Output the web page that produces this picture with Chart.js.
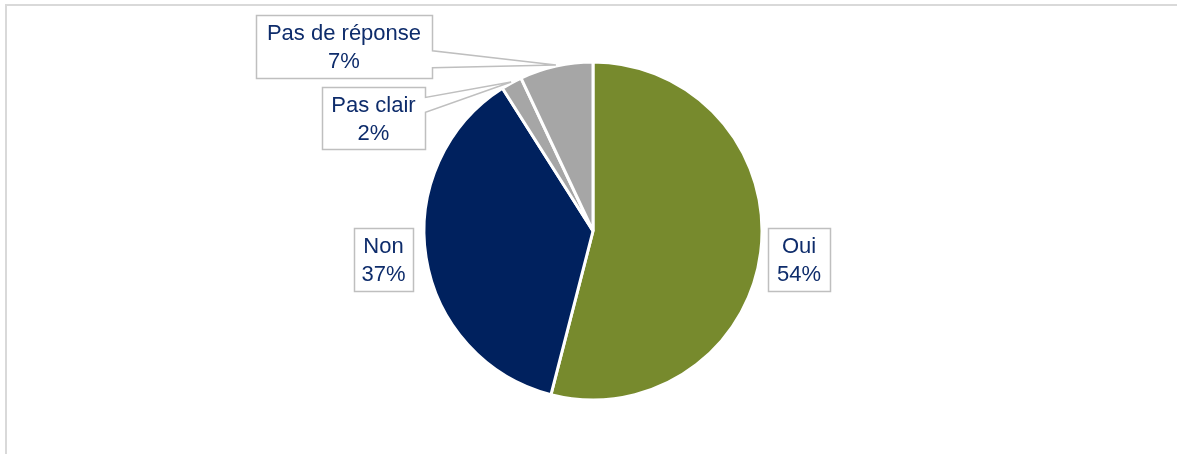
<!DOCTYPE html>
<html lang="fr">
  <head>
    <meta charset="UTF-8" />
    <title>Réponses</title>
    <script src="https://cdn.jsdelivr.net/npm/chart.js"></script>
    <style>
      html, body { margin: 0; padding: 0; background: #fff; }
      #wrap { position: relative; width: 1177px; height: 454px; }
    </style>
  </head>
  <body>
    <div id="wrap"><canvas id="answersChart"></canvas></div>

    <script>
      // Répartition des réponses
      const categories = ["Oui", "Non", "Pas clair", "Pas de réponse"];
      const shares = [54, 37, 2, 7];
      const sliceColors = ["#778a2d", "#00215e", "#a6a6a6", "#a6a6a6"];

      // Étiquettes : centre de la boîte par rapport au centre du camembert,
      // et base de la flèche (fractions de la hauteur) pour les bulles
      const labelBoxes = [
        { dx: 206, dy: 28.5, w: 62, h: 63 },
        { dx: -209.5, dy: 28.5, w: 59, h: 63 },
        { dx: -219.5, dy: -113, w: 103, h: 62, wedge: [0.16, 0.4] },
        { dx: -249, dy: -184.5, w: 176, h: 63, wedge: [0.56, 0.83] },
      ];

      const textColor = "#0e2c6b";
      const boxBorder = "#bfbfbf";

      // fin cadre gris en haut et à gauche
      const framePlugin = {
        id: "frame",
        beforeDraw(chart) {
          const ctx = chart.ctx;
          ctx.save();
          ctx.strokeStyle = "#d9d9d9";
          ctx.lineWidth = 2;
          ctx.beginPath();
          ctx.moveTo(6, chart.height);
          ctx.lineTo(6, 5);
          ctx.lineTo(chart.width, 5);
          ctx.stroke();
          ctx.restore();
        },
      };

      // boîtes d'étiquettes (avec bulle pointant vers la part si besoin)
      const calloutPlugin = {
        id: "callouts",
        afterDatasetsDraw(chart) {
          const ctx = chart.ctx;
          const arcs = chart.getDatasetMeta(0).data;
          ctx.save();
          ctx.font = "22px 'Liberation Sans', Arial, sans-serif";
          ctx.textAlign = "center";
          ctx.textBaseline = "alphabetic";
          arcs.forEach((arc, i) => {
            const box = labelBoxes[i];
            const cx = arc.x + box.dx;
            const cy = arc.y + box.dy;
            const l = Math.round(cx - box.w / 2) + 0.5;
            const r = Math.round(cx + box.w / 2) + 0.5;
            const t = Math.round(cy - box.h / 2) + 0.5;
            const b = Math.round(cy + box.h / 2) + 0.5;

            ctx.beginPath();
            ctx.moveTo(l, t);
            ctx.lineTo(r, t);
            if (box.wedge) {
              const mid = (arc.startAngle + arc.endAngle) / 2;
              const tipR = arc.outerRadius + 1;
              const tx = arc.x + Math.cos(mid) * tipR;
              const ty = arc.y + Math.sin(mid) * tipR;
              ctx.lineTo(r, t + box.h * box.wedge[0]);
              ctx.lineTo(tx, ty);
              ctx.lineTo(r, t + box.h * box.wedge[1]);
            }
            ctx.lineTo(r, b);
            ctx.lineTo(l, b);
            ctx.closePath();
            ctx.fillStyle = "#ffffff";
            ctx.fill();
            ctx.strokeStyle = boxBorder;
            ctx.lineWidth = 1.5;
            ctx.stroke();

            ctx.fillStyle = textColor;
            ctx.fillText(categories[i], cx, cy - 6.5);
            ctx.fillText(shares[i] + "%", cx, cy + 21.5);
          });
          ctx.restore();
        },
      };

      new Chart(document.getElementById("answersChart"), {
        type: "pie",
        data: {
          labels: categories,
          datasets: [
            {
              data: shares,
              backgroundColor: sliceColors,
              borderColor: "#ffffff",
              borderWidth: 3,
            },
          ],
        },
        options: {
          responsive: true,
          maintainAspectRatio: false,
          animation: false,
          radius: 169,
          layout: { padding: { top: 8, left: 9 } },
          plugins: {
            legend: { display: false },
            tooltip: { enabled: false },
          },
        },
        plugins: [framePlugin, calloutPlugin],
      });
    </script>
  </body>
</html>
